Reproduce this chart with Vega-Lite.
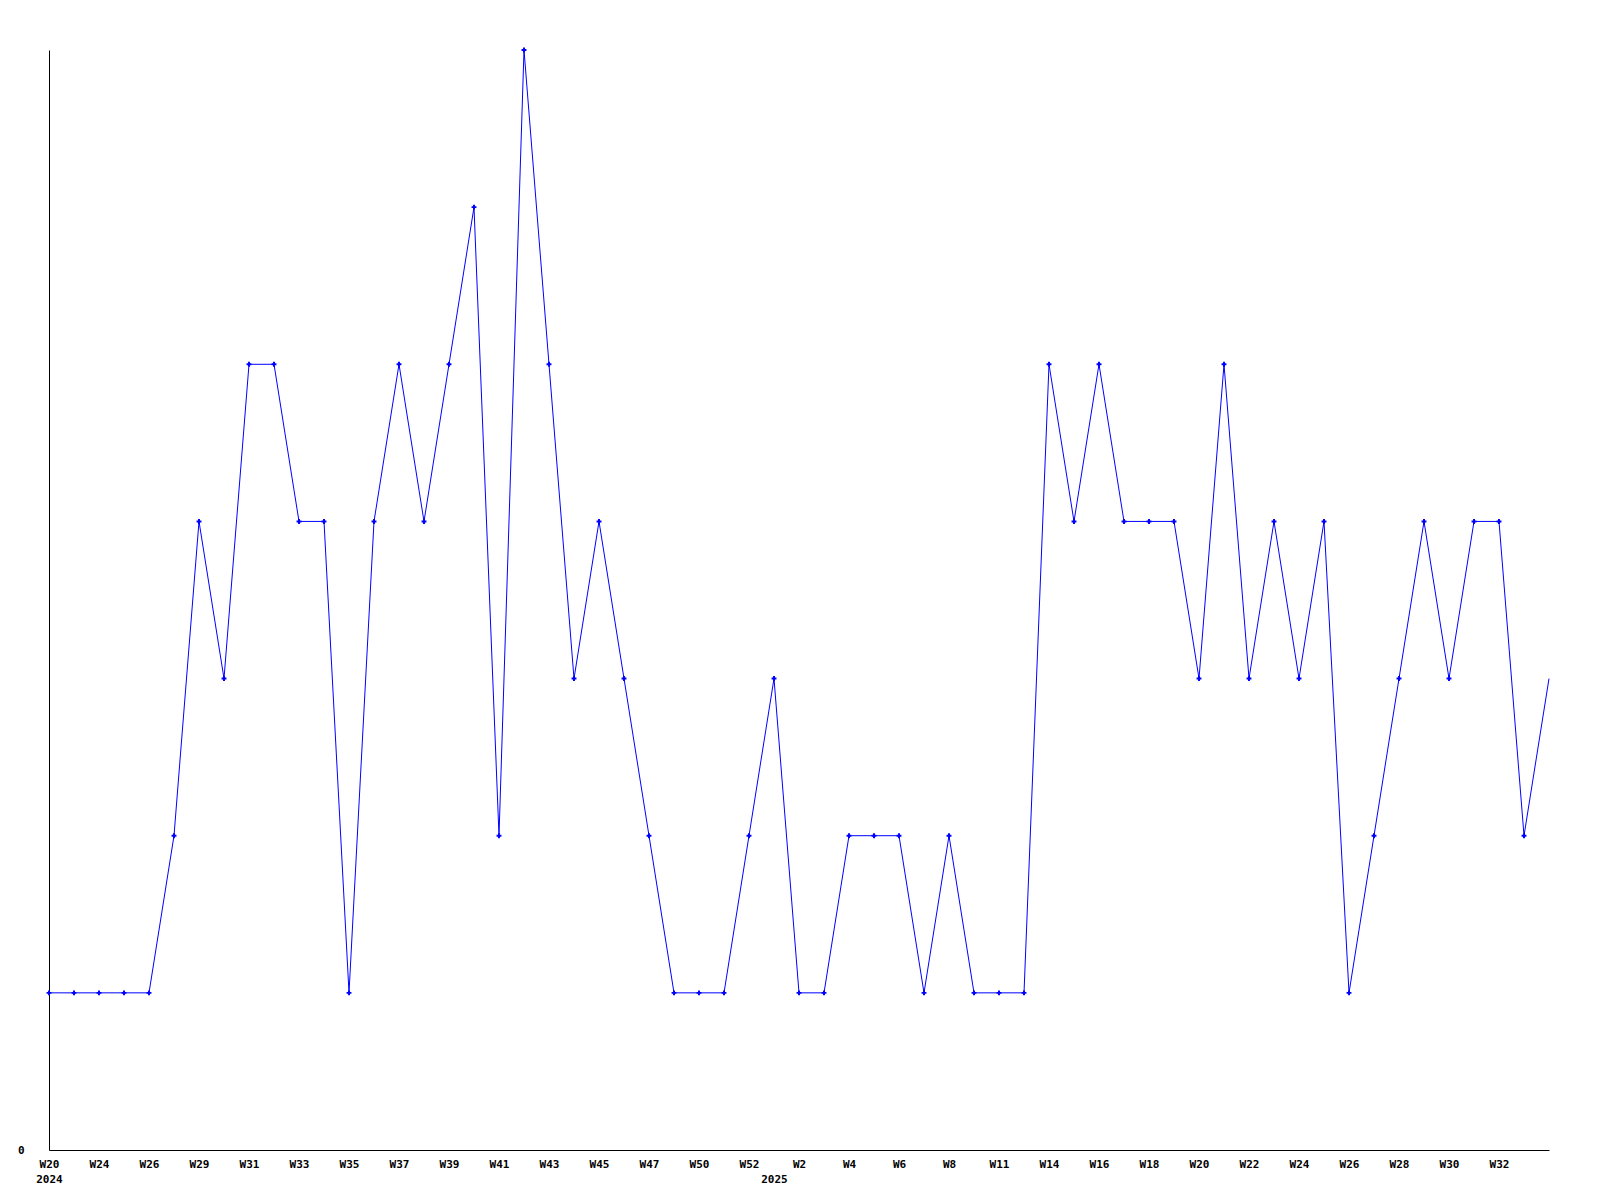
{
  "$schema": "https://vega.github.io/schema/vega-lite/v6.json",
  "autosize": "none",
  "width": 1500,
  "height": 1100,
  "padding": {"left": 49, "top": 50, "right": 51, "bottom": 50},
  "background": "white",
  "config": {"view": {"stroke": null}, "font": "DejaVu Sans Mono"},
  "data": {"values": [
    {"key": "2024-W20", "v": 1}, {"key": "2024-W22", "v": 1}, {"key": "2024-W24", "v": 1}, {"key": "2024-W25", "v": 1},
    {"key": "2024-W26", "v": 1}, {"key": "2024-W28", "v": 2}, {"key": "2024-W29", "v": 4}, {"key": "2024-W30", "v": 3},
    {"key": "2024-W31", "v": 5}, {"key": "2024-W32", "v": 5}, {"key": "2024-W33", "v": 4}, {"key": "2024-W34", "v": 4},
    {"key": "2024-W35", "v": 1}, {"key": "2024-W36", "v": 4}, {"key": "2024-W37", "v": 5}, {"key": "2024-W38", "v": 4},
    {"key": "2024-W39", "v": 5}, {"key": "2024-W40", "v": 6}, {"key": "2024-W41", "v": 2}, {"key": "2024-W42", "v": 7},
    {"key": "2024-W43", "v": 5}, {"key": "2024-W44", "v": 3}, {"key": "2024-W45", "v": 4}, {"key": "2024-W46", "v": 3},
    {"key": "2024-W47", "v": 2}, {"key": "2024-W49", "v": 1}, {"key": "2024-W50", "v": 1}, {"key": "2024-W51", "v": 1},
    {"key": "2024-W52", "v": 2}, {"key": "2025-W1", "v": 3}, {"key": "2025-W2", "v": 1}, {"key": "2025-W3", "v": 1},
    {"key": "2025-W4", "v": 2}, {"key": "2025-W5", "v": 2}, {"key": "2025-W6", "v": 2}, {"key": "2025-W7", "v": 1},
    {"key": "2025-W8", "v": 2}, {"key": "2025-W10", "v": 1}, {"key": "2025-W11", "v": 1}, {"key": "2025-W13", "v": 1},
    {"key": "2025-W14", "v": 5}, {"key": "2025-W15", "v": 4}, {"key": "2025-W16", "v": 5}, {"key": "2025-W17", "v": 4},
    {"key": "2025-W18", "v": 4}, {"key": "2025-W19", "v": 4}, {"key": "2025-W20", "v": 3}, {"key": "2025-W21", "v": 5},
    {"key": "2025-W22", "v": 3}, {"key": "2025-W23", "v": 4}, {"key": "2025-W24", "v": 3}, {"key": "2025-W25", "v": 4},
    {"key": "2025-W26", "v": 1}, {"key": "2025-W27", "v": 2}, {"key": "2025-W28", "v": 3}, {"key": "2025-W29", "v": 4},
    {"key": "2025-W30", "v": 3}, {"key": "2025-W31", "v": 4}, {"key": "2025-W32", "v": 4}, {"key": "2025-W33", "v": 2},
    {"key": "2025-W34", "v": 3}
  ]},
  "encoding": {
    "x": {
      "field": "key", "type": "ordinal", "sort": null,
      "scale": {"type": "point", "padding": 0},
      "axis": {
        "title": null, "ticks": false, "grid": false, "domainColor": "black", "domainWidth": 1,
        "labelAngle": 0, "labelOverlap": false, "labelFont": "DejaVu Sans Mono", "labelFontWeight": "bold",
        "labelFontSize": 11, "labelColor": "black", "labelPadding": 8, "labelBaseline": "top", "labelLineHeight": 15,
        "labelFlush": false,
        "values": ["2024-W20","2024-W24","2024-W26","2024-W29","2024-W31","2024-W33","2024-W35","2024-W37","2024-W39","2024-W41","2024-W43","2024-W45","2024-W47","2024-W50","2024-W52","2025-W1","2025-W2","2025-W4","2025-W6","2025-W8","2025-W11","2025-W14","2025-W16","2025-W18","2025-W20","2025-W22","2025-W24","2025-W26","2025-W28","2025-W30","2025-W32"],
        "labelExpr": "datum.value == '2024-W20' ? [split(datum.value, '-')[1], split(datum.value, '-')[0]] : (datum.value == '2025-W1' ? ['', split(datum.value, '-')[0]] : split(datum.value, '-')[1])"
      }
    },
    "y": {
      "field": "v", "type": "quantitative",
      "scale": {"domain": [0, 7], "nice": false, "zero": true},
      "axis": {
        "title": null, "values": [0], "ticks": false, "grid": false, "domainColor": "black", "domainWidth": 1,
        "labelFont": "DejaVu Sans Mono", "labelFontWeight": "bold", "labelFontSize": 11, "labelColor": "black",
        "labelPadding": 25
      }
    }
  },
  "layer": [
    {"mark": {"type": "line", "color": "#0000ff", "strokeWidth": 1}},
    {
      "transform": [{"filter": "datum.key != '2025-W34'"}],
      "mark": {"type": "point", "shape": "cross", "filled": true, "color": "#0000ff", "size": 24, "opacity": 1}
    }
  ]
}
